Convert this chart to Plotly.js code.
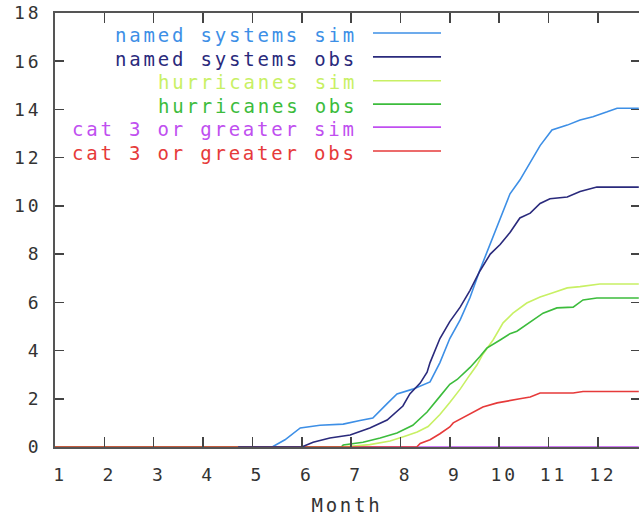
<!DOCTYPE html>
<html>
<head>
<meta charset="utf-8">
<script src="https://cdn.plot.ly/plotly-3.0.1.min.js"></script>
<style>
  html, body { margin: 0; padding: 0; background: #fff; }
  #chart { width: 639px; height: 519px; }
  svg text { letter-spacing: 2.8px; }
</style>
</head>
<body>
<div id="chart"></div>
<script>
// ---- data ----
const seriesNames = [
  "named systems sim", "named systems obs",
  "hurricanes sim", "hurricanes obs",
  "cat 3 or greater sim", "cat 3 or greater obs"
];
const seriesColors = ["#3d8fe6", "#2a2a7c", "#c8f064", "#3cbc3c", "#c04ff0", "#e63a3a"];

const namedSimMonth = [1, 5.40, 5.66, 5.97, 6.37, 6.84, 7.18, 7.44, 7.73, 7.93, 8.25, 8.60, 8.80, 9.00, 9.21, 9.41, 9.61, 9.77, 9.88, 10.08, 10.22, 10.42, 10.63, 10.83, 11.07, 11.38, 11.64, 11.90, 12.19, 12.39, 12.83];
const namedSimVal   = [0, 0, 0.3, 0.79, 0.9, 0.95, 1.1, 1.2, 1.8, 2.2, 2.4, 2.7, 3.5, 4.5, 5.27, 6.2, 7.34, 8.17, 8.7, 9.8, 10.5, 11.07, 11.8, 12.5, 13.15, 13.35, 13.56, 13.7, 13.9, 14.05, 14.05];

const namedObsMonth = [4.71, 6.00, 6.23, 6.57, 6.98, 7.38, 7.73, 8.05, 8.19, 8.40, 8.54, 8.60, 8.80, 9.00, 9.21, 9.41, 9.61, 9.82, 10.02, 10.22, 10.42, 10.63, 10.83, 11.03, 11.38, 11.64, 11.98, 12.83];
const namedObsVal   = [0, 0, 0.2, 0.37, 0.5, 0.79, 1.12, 1.7, 2.2, 2.65, 3.1, 3.5, 4.5, 5.2, 5.8, 6.5, 7.3, 8.0, 8.4, 8.9, 9.5, 9.7, 10.1, 10.3, 10.37, 10.6, 10.78, 10.78];

const hurrSimMonth = [1, 6.80, 7.38, 7.79, 8.09, 8.34, 8.56, 8.80, 9.00, 9.21, 9.41, 9.55, 9.67, 9.88, 10.08, 10.28, 10.56, 10.83, 11.09, 11.38, 11.64, 12.04, 12.83];
const hurrSimVal   = [0, 0, 0.1, 0.25, 0.45, 0.62, 0.85, 1.35, 1.85, 2.4, 3.0, 3.4, 3.85, 4.45, 5.15, 5.55, 5.97, 6.22, 6.4, 6.6, 6.65, 6.76, 6.76];

const hurrObsMonth = [1, 6.80, 6.84, 7.24, 7.59, 7.93, 8.25, 8.54, 8.80, 9.00, 9.15, 9.41, 9.61, 9.75, 10.02, 10.22, 10.36, 10.63, 10.89, 11.17, 11.50, 11.70, 11.98, 12.83];
const hurrObsVal   = [0, 0, 0.08, 0.2, 0.37, 0.58, 0.9, 1.45, 2.1, 2.6, 2.8, 3.3, 3.75, 4.1, 4.44, 4.7, 4.8, 5.18, 5.55, 5.77, 5.8, 6.1, 6.18, 6.18];

const cat3SimMonth = [1, 12.83];
const cat3SimVal   = [0, 0];

const cat3ObsMonth = [1, 8.33, 8.40, 8.60, 8.80, 9.00, 9.07, 9.35, 9.67, 9.96, 10.28, 10.42, 10.63, 10.83, 11.50, 11.70, 12.83];
const cat3ObsVal   = [0, 0, 0.15, 0.3, 0.55, 0.83, 1.0, 1.3, 1.66, 1.83, 1.97, 2.0, 2.07, 2.24, 2.24, 2.3, 2.3];

const xTickVals = [1, 2, 3, 4, 5, 6, 7, 8, 9, 10, 11, 12];
const yTickVals = [0, 2, 4, 6, 8, 10, 12, 14, 16, 18];

// ---- traces (draw order chosen to match what sits on top at zero) ----
function tr(x, y, idx) {
  return { x: x, y: y, type: "scatter", mode: "lines", name: seriesNames[idx],
           line: { color: seriesColors[idx], width: 1.6 }, hoverinfo: "skip", showlegend: false };
}
const data = [
  tr(cat3SimMonth, cat3SimVal, 4),
  tr(namedSimMonth, namedSimVal, 0),
  tr(hurrSimMonth, hurrSimVal, 2),
  tr(hurrObsMonth, hurrObsVal, 3),
  tr(cat3ObsMonth, cat3ObsVal, 5),
  tr(namedObsMonth, namedObsVal, 1),
  { x: [], y: [], yaxis: "y2", type: "scatter", mode: "lines", showlegend: false, hoverinfo: "skip" }
];

// ---- custom legend (text right-aligned, line sample to the right) ----
const legendY = [0.954, 0.899, 0.844, 0.790, 0.737, 0.682];
const annotations = [];
const shapes = [];
seriesNames.forEach((name, i) => {
  annotations.push({
    xref: "paper", yref: "paper", x: 0.520, y: legendY[i] - 0.004,
    xanchor: "right", yanchor: "middle", showarrow: false, text: name,
    font: { family: "DejaVu Sans Mono", size: 19, color: seriesColors[i] }
  });
  shapes.push({
    type: "line", xref: "paper", yref: "paper",
    x0: 0.5445, x1: 0.661, y0: legendY[i], y1: legendY[i],
    line: { color: seriesColors[i], width: 1.6 }
  });
});

const tickFont = { family: "DejaVu Sans Mono", size: 18, color: "#333" };
const layout = {
  width: 639, height: 519,
  margin: { l: 55, r: 0, t: 13, b: 72, pad: 0 },
  paper_bgcolor: "#fff", plot_bgcolor: "#fff",
  showlegend: false,
  xaxis: {
    range: [1, 12.834], tickvals: xTickVals, ticktext: xTickVals.map(String),
    ticks: "inside", ticklen: 10, tickwidth: 1.5, tickcolor: "#444",
    showline: true, linecolor: "#555", linewidth: 2, mirror: "ticks",
    showgrid: false, zeroline: false, tickfont: tickFont,
    ticklabelshift: 5, ticklabelstandoff: 10,
    title: { text: "Month", font: { family: "DejaVu Sans Mono", size: 19, color: "#333" }, standoff: 15 }
  },
  yaxis: {
    range: [0, 18], tickvals: yTickVals, ticktext: yTickVals.map(String),
    ticks: "inside", ticklen: 9, tickwidth: 1.5, tickcolor: "#444",
    showline: true, linecolor: "#555", linewidth: 2,
    showgrid: false, zeroline: false, tickfont: tickFont, ticklabelstandoff: 8
  },
  yaxis2: {
    overlaying: "y", side: "right", range: [0, 18], tickvals: yTickVals,
    ticks: "inside", ticklen: 8, tickwidth: 1.5, tickcolor: "#444",
    showticklabels: false, showline: false, showgrid: false, zeroline: false
  },
  annotations: annotations,
  shapes: shapes
};

Plotly.newPlot("chart", data, layout, { staticPlot: true, displayModeBar: false });
</script>
</body>
</html>
